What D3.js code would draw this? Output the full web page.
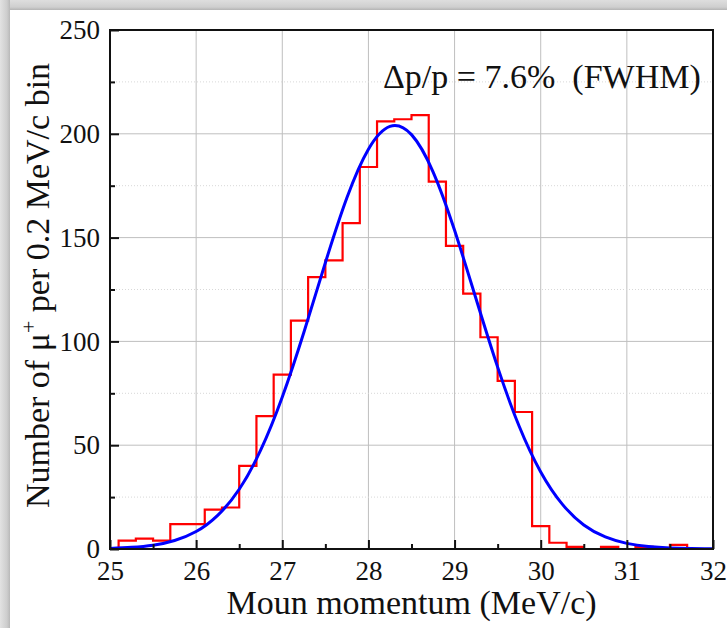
<!DOCTYPE html>
<html>
<head>
<meta charset="utf-8">
<script src="https://cdn.jsdelivr.net/npm/d3@7"></script>
<style>
  html, body { margin: 0; padding: 0; background: #fff; }
  svg { display: block; }
  text { font-family: "Liberation Serif", "Times New Roman", serif; fill: #111; }
</style>
</head>
<body>
<svg id="chart" width="727" height="628"></svg>
<script>
// Muon momentum histogram: counts per 0.2 MeV/c bin, first bin starts at 25.1
const binStart = 25.1;
const binWidth = 0.2;
const binCounts = [4, 5, 4, 12, 12, 19, 20, 40, 64, 84, 110, 131, 139, 157, 184,
                   206, 207, 209, 177, 146, 123, 102, 81, 66, 11, 3, 1, 0, 1, 0, 1, 0, 2, 0];

// Gaussian fit curve, sampled every 0.25 MeV/c
const fitX = [25.00, 25.25, 25.50, 25.75, 26.00, 26.25, 26.50, 26.75, 27.00, 27.25,
              27.50, 27.75, 28.00, 28.25, 28.50, 28.75, 29.00, 29.25, 29.50, 29.75,
              30.00, 30.25, 30.50, 30.75, 31.00, 31.25, 31.50, 31.75, 32.00];
const fitY = [0.3, 0.8, 1.8, 4.1, 8.4, 16.2, 28.8, 47.7, 73.2, 104.3,
              137.9, 169.2, 192.6, 203.6, 199.6, 181.7, 153.5, 120.4, 87.6, 59.1,
              37.1, 21.6, 11.6, 5.8, 2.7, 1.2, 0.5, 0.2, 0.1];

const xMajorTicks = [25, 26, 27, 28, 29, 30, 31, 32];
const xMinorTicks = [25.5, 26.5, 27.5, 28.5, 29.5, 30.5, 31.5];
const yMajorTicks = [0, 50, 100, 150, 200, 250];
const yMinorTicks = [25, 75, 125, 175, 225];

const xTitle = "Moun momentum (MeV/c)";
const annotation = "\u0394p/p = 7.6%  (FWHM)";

const svg = d3.select("#chart");
const W = 727, H = 628;
const plot = { left: 110, right: 713, top: 30, bottom: 549 };

// soft grey frame along the top and left edges
const defs = svg.append("defs");
const gTop = defs.append("linearGradient").attr("id", "edgeTop")
  .attr("x1", 0).attr("y1", 0).attr("x2", 0).attr("y2", 1);
gTop.append("stop").attr("offset", "0%").attr("stop-color", "#dedede");
gTop.append("stop").attr("offset", "70%").attr("stop-color", "#cfcfcf");
gTop.append("stop").attr("offset", "100%").attr("stop-color", "#b4b4b4");
const gLeft = defs.append("linearGradient").attr("id", "edgeLeft")
  .attr("x1", 0).attr("y1", 0).attr("x2", 1).attr("y2", 0);
gLeft.append("stop").attr("offset", "0%").attr("stop-color", "#e2e2e2");
gLeft.append("stop").attr("offset", "70%").attr("stop-color", "#cdcdcd");
gLeft.append("stop").attr("offset", "100%").attr("stop-color", "#b8b8b8");

svg.append("rect").attr("width", W).attr("height", H).attr("fill", "#fff");
svg.append("rect").attr("x", 0).attr("y", 0).attr("width", W).attr("height", 10).attr("fill", "url(#edgeTop)");
svg.append("rect").attr("x", 0).attr("y", 0).attr("width", 10).attr("height", H).attr("fill", "url(#edgeLeft)");

defs.append("clipPath").attr("id", "plotClip").append("rect")
  .attr("x", plot.left).attr("y", plot.top)
  .attr("width", plot.right - plot.left).attr("height", plot.bottom - plot.top);

const x = d3.scaleLinear().domain([25, 32]).range([plot.left, plot.right]);
const y = d3.scaleLinear().domain([0, 250]).range([plot.bottom, plot.top]);

// grid
const grid = svg.append("g");
grid.selectAll(".gx").data(xMajorTicks).join("line")
  .attr("x1", d => x(d)).attr("x2", d => x(d))
  .attr("y1", plot.top).attr("y2", plot.bottom)
  .attr("stroke", "#bfbfbf").attr("stroke-width", 1);
grid.selectAll(".gy").data(yMajorTicks).join("line")
  .attr("x1", plot.left).attr("x2", plot.right)
  .attr("y1", d => y(d)).attr("y2", d => y(d))
  .attr("stroke", "#bfbfbf").attr("stroke-width", 1);
grid.selectAll(".gym").data(yMinorTicks).join("line")
  .attr("x1", plot.left).attr("x2", plot.right)
  .attr("y1", d => y(d)).attr("y2", d => y(d))
  .attr("stroke", "#d8d8d8").attr("stroke-width", 1).attr("stroke-dasharray", "1,2");

// histogram as a step outline
const stepPts = [[25, 0], [binStart, 0]];
binCounts.forEach((c, i) => {
  const x0 = binStart + i * binWidth;
  stepPts.push([x0, c], [x0 + binWidth, c]);
});
stepPts.push([binStart + binCounts.length * binWidth, 0], [32, 0]);

const stepLine = d3.line().x(d => x(d[0])).y(d => y(d[1]));
svg.append("path").attr("clip-path", "url(#plotClip)")
  .attr("d", stepLine(stepPts))
  .attr("fill", "none").attr("stroke", "#ff0000").attr("stroke-width", 2.2)
  .attr("stroke-linejoin", "miter");

// fit curve
const fitLine = d3.line().x(d => x(d[0])).y(d => y(d[1])).curve(d3.curveNatural);
svg.append("path").attr("clip-path", "url(#plotClip)")
  .attr("d", fitLine(fitX.map((v, i) => [v, fitY[i]])))
  .attr("fill", "none").attr("stroke", "#0000ff").attr("stroke-width", 3);

// frame
svg.append("rect").attr("x", plot.left).attr("y", plot.top)
  .attr("width", plot.right - plot.left).attr("height", plot.bottom - plot.top)
  .attr("fill", "none").attr("stroke", "#111").attr("stroke-width", 2);

// axes with inward ticks
const axX = svg.append("g").attr("transform", `translate(0,${plot.bottom})`)
  .call(d3.axisBottom(x).tickValues(xMajorTicks).tickSize(-9).tickPadding(12).tickFormat(d3.format("d")));
const axXm = svg.append("g").attr("transform", `translate(0,${plot.bottom})`)
  .call(d3.axisBottom(x).tickValues(xMinorTicks).tickSize(-5).tickFormat(""));
const axY = svg.append("g").attr("transform", `translate(${plot.left},0)`)
  .call(d3.axisLeft(y).tickValues(yMajorTicks).tickSize(-9).tickPadding(10).tickFormat(d3.format("d")));
const axYm = svg.append("g").attr("transform", `translate(${plot.left},0)`)
  .call(d3.axisLeft(y).tickValues(yMinorTicks).tickSize(-5).tickFormat(""));

[axX, axXm, axY, axYm].forEach(a => {
  a.select(".domain").remove();
  a.selectAll(".tick line").attr("stroke", "#111").attr("stroke-width", 2);
  a.selectAll(".tick text")
    .style("font-family", '"Liberation Serif", "Times New Roman", serif')
    .style("font-size", "27px").attr("fill", "#111");
});
axX.selectAll(".tick text").attr("dy", "0.71em");

// axis titles
svg.append("text")
  .attr("x", (plot.left + plot.right) / 2).attr("y", 614)
  .attr("text-anchor", "middle").style("font-size", "34px")
  .text(xTitle);

const yTitle = svg.append("text")
  .attr("transform", `translate(49,${(plot.top + plot.bottom) / 2 - 4}) rotate(-90)`)
  .attr("text-anchor", "middle").style("font-size", "34px");
yTitle.append("tspan").text("Number of \u03bc");
yTitle.append("tspan").attr("dy", -13).style("font-size", "22px").text("+");
yTitle.append("tspan").attr("dy", 13).text(" per 0.2 MeV/c bin");

// resolution annotation
svg.append("text")
  .attr("x", 383).attr("y", 88)
  .style("font-size", "34px").style("white-space", "pre")
  .text(annotation);
</script>
</body>
</html>
